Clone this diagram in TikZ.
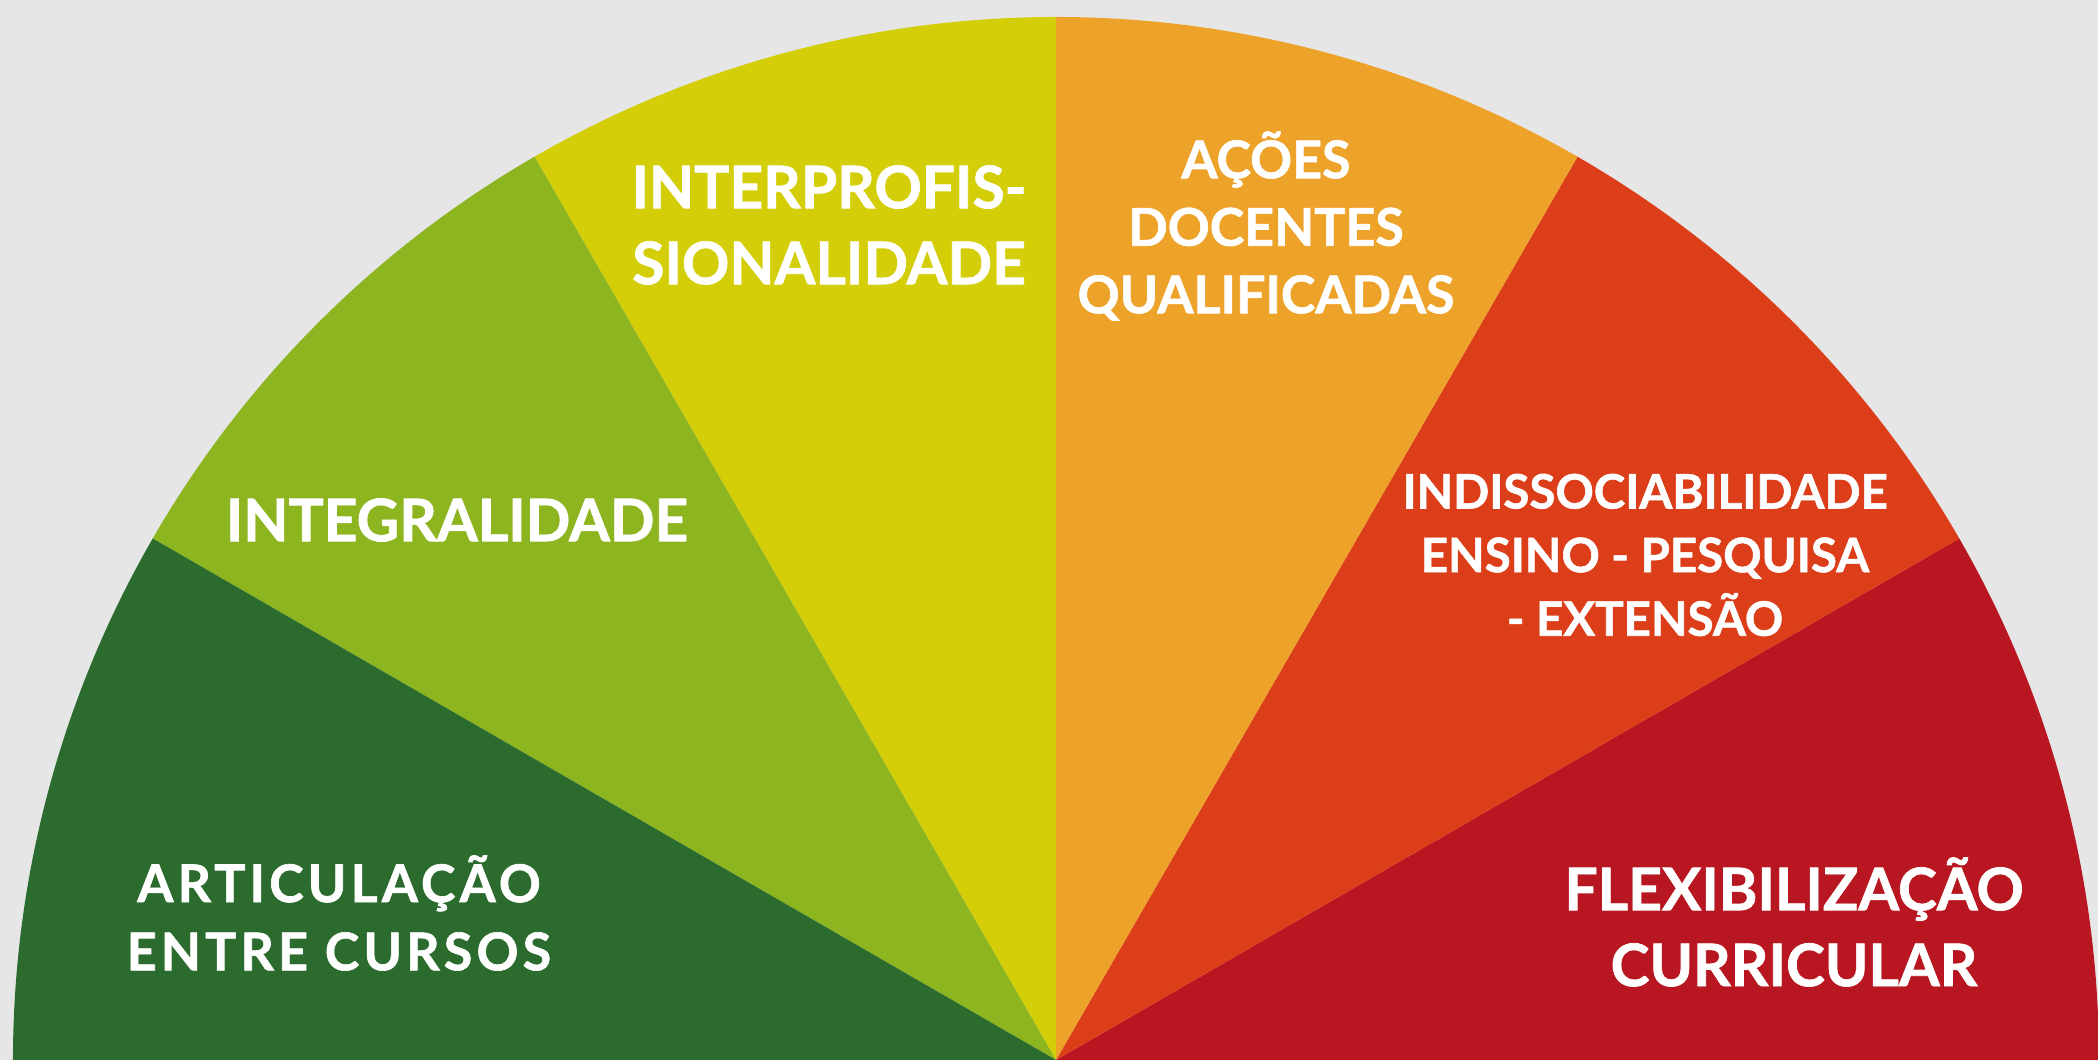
\documentclass[tikz,border=0pt]{standalone}
\usepackage{fontspec}
\setmainfont{Lato}[BoldFeatures={FakeBold=1.2}]
\definecolor{bgGrey}{HTML}{E6E6E6}
\definecolor{fanGreenDark}{HTML}{2B6B2E}
\definecolor{fanGreen}{HTML}{8DB520}
\definecolor{fanYellow}{HTML}{D4CE08}
\definecolor{fanOrange}{HTML}{EDA229}
\definecolor{fanRedOrange}{HTML}{DC3E1A}
\definecolor{fanRed}{HTML}{B81620}

\begin{document}
\begin{tikzpicture}
[label/.style={text=white,align=center,inner sep=0pt},%
 labelBig/.style={label,font=\fontsize{16.7}{21.6}\selectfont\bfseries},
 labelSmall/.style={label,font=\fontsize{14.8}{19.2}\selectfont\bfseries},
 labelTight/.style={label,font=\fontsize{13.5}{18.1}\selectfont\bfseries},
 labelWide/.style={label,%
  font=\fontsize{14.8}{19.4}\selectfont\bfseries\addfontfeatures{LetterSpace=8}}]
\useasboundingbox (-10.56,0) rectangle (10.42,10.60);
\fill[bgGrey] (-10.56,0) rectangle (10.42,10.60);
%% sectors of the fan
\foreach \start/\colour in {
  0/fanRed, 30/fanRedOrange, 60/fanOrange,
  90/fanYellow, 120/fanGreen, 150/fanGreenDark}
{
  \fill[\colour] (0,0) -- (\start:10.43)
    arc[start angle=\start, delta angle=30, radius=10.43] -- cycle;
}
%% labels
\foreach \nodename/\look/\x/\y/\lbl in {
  articulacao/labelWide/-7.17/1.47/{ARTICULAÇÃO\\ENTRE CURSOS},
  integralidade/labelBig/-5.99/5.40/{INTEGRALIDADE},
  interprof/labelBig/-2.27/8.35/{INTERPROFIS-\\SIONALIDADE},
  acoes/labelSmall/2.10/8.34/{AÇÕES\\DOCENTES\\QUALIFICADAS},
  indissoc/labelTight/5.89/5.05/{INDISSOCIABILIDADE\\ENSINO - PESQUISA\\- EXTENSÃO},
  flexibil/labelBig/7.38/1.38/{FLEXIBILIZAÇÃO\\CURRICULAR}}
{
  \node[\look] (\nodename) at (\x,\y) {\lbl};
}
\end{tikzpicture}
\end{document}
